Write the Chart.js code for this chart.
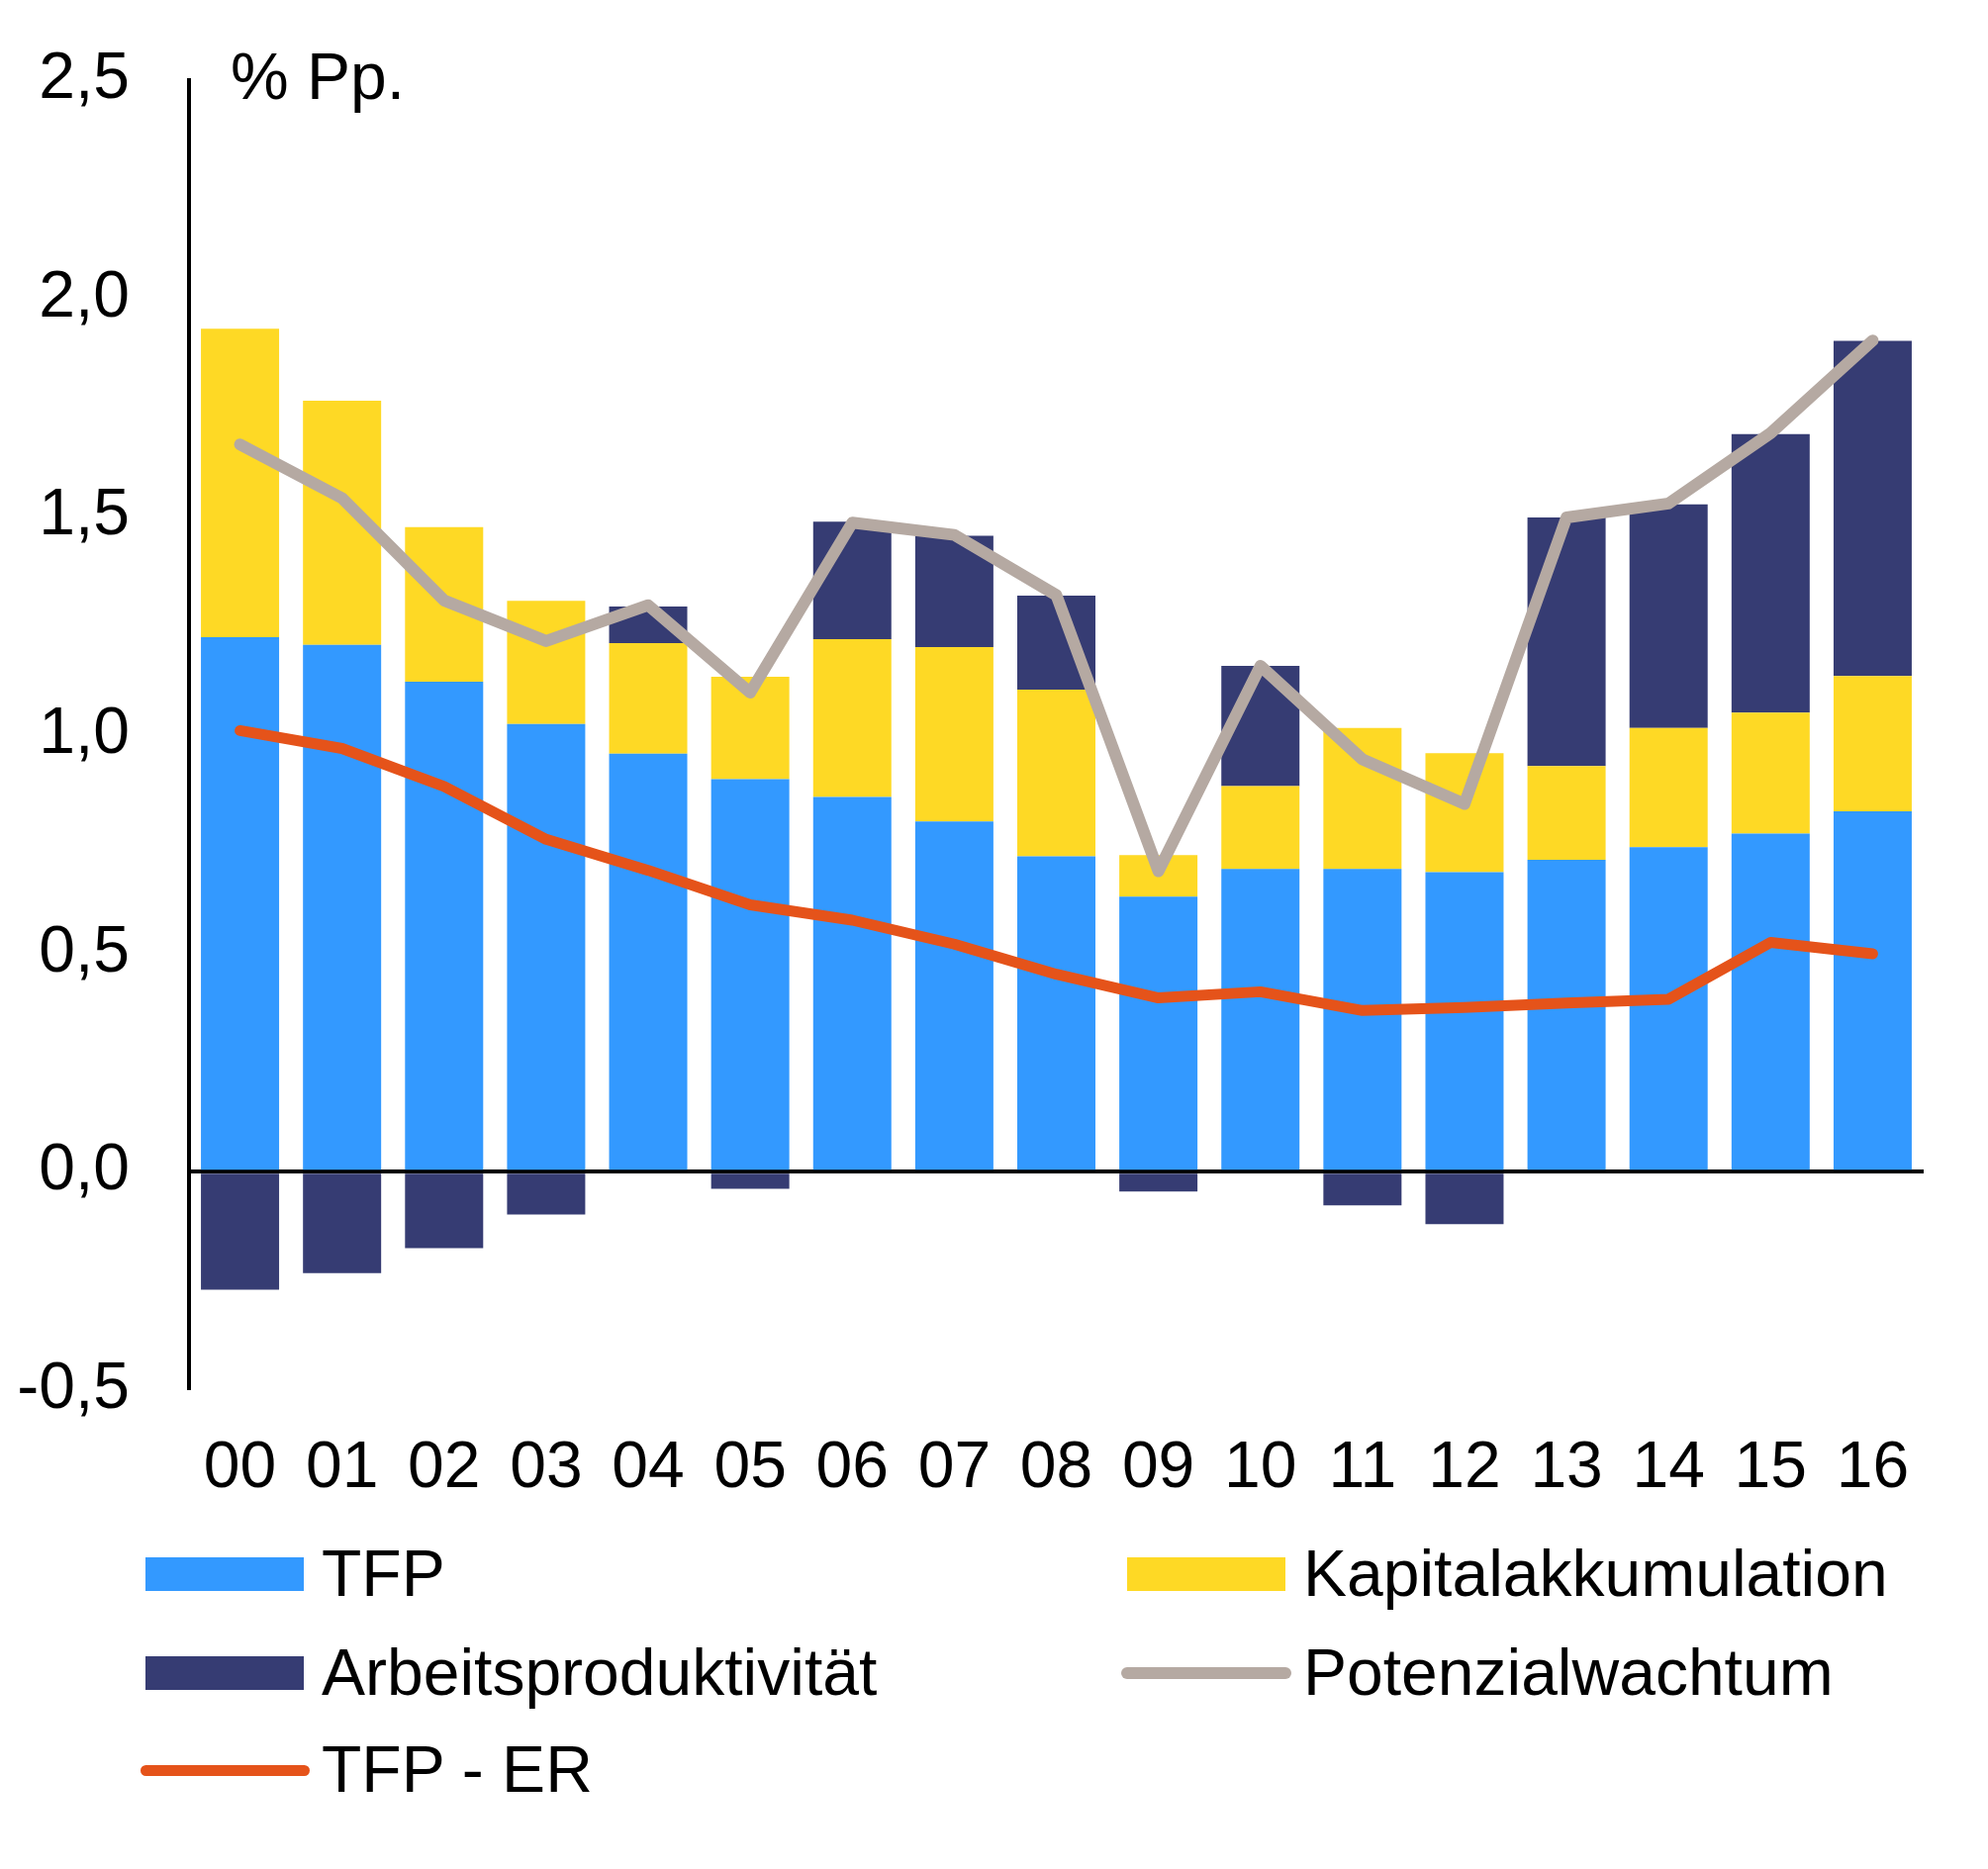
<!DOCTYPE html>
<html>
<head>
<meta charset="utf-8">
<script src="https://cdn.jsdelivr.net/npm/chart.js@4.4.1/dist/chart.umd.min.js"></script>
<style>
  html, body { margin: 0; padding: 0; background: #ffffff; }
  body { width: 2009px; height: 1889px; position: relative; overflow: hidden;
         font-family: "Liberation Sans", Arial, sans-serif; color: #000; }
  #wrap { position: absolute; left: 0; top: -19px; width: 2009px; height: 1908px; }
  .txt { position: absolute; font-size: 66px; line-height: 66px; white-space: nowrap; }
  .sw { position: absolute; }
</style>
</head>
<body>
<div id="wrap"><canvas id="c" width="2009" height="1908"></canvas></div>
<div class="txt" id="unit" style="left:233px; top:44px;">% Pp.</div>
<div id="legend"></div>
<script>
// ---- data ----
const years = ['00','01','02','03','04','05','06','07','08','09','10','11','12','13','14','15','16'];
const tfp = [1.224, 1.206, 1.122, 1.025, 0.957, 0.899, 0.858, 0.802, 0.722, 0.630, 0.693, 0.693, 0.686, 0.714, 0.743, 0.774, 0.825];
const kapital = [0.706, 0.559, 0.354, 0.282, 0.253, 0.234, 0.361, 0.399, 0.382, 0.095, 0.190, 0.323, 0.272, 0.215, 0.273, 0.277, 0.310];
const arbeit = [-0.270, -0.232, -0.175, -0.098, 0.084, -0.039, 0.269, 0.255, 0.215, -0.045, 0.275, -0.077, -0.120, 0.569, 0.512, 0.638, 0.767];
const potenzial = [1.665, 1.542, 1.308, 1.215, 1.297, 1.097, 1.486, 1.458, 1.320, 0.688, 1.158, 0.944, 0.842, 1.498, 1.530, 1.691, 1.903];
const tfpEr = [1.010, 0.969, 0.882, 0.761, 0.690, 0.611, 0.576, 0.521, 0.452, 0.398, 0.412, 0.369, 0.376, 0.386, 0.395, 0.525, 0.499];
const yMin = -0.5, yMax = 2.5, yStep = 0.5;
const seriesNames = ['TFP', 'Kapitalakkumulation', 'Arbeitsproduktivität', 'Potenzialwachtum', 'TFP - ER'];

// ---- styles ----
const C_BLUE = '#3399FF', C_YELLOW = '#FED925', C_NAVY = '#363C73', C_GRAY = '#B5A9A2', C_ORANGE = '#E5531A';
const FONT = { family: '"Liberation Sans", Arial, sans-serif', size: 66 };

const ctx = document.getElementById('c').getContext('2d');
new Chart(ctx, {
  type: 'bar',
  data: {
    labels: years,
    datasets: [
      { type: 'line', label: seriesNames[3], data: potenzial, borderColor: C_GRAY, backgroundColor: C_GRAY,
        borderWidth: 12, pointRadius: 0, tension: 0, borderCapStyle: 'round', borderJoinStyle: 'round',
        stack: 'l1', order: 0 },
      { type: 'line', label: seriesNames[4], data: tfpEr, borderColor: C_ORANGE, backgroundColor: C_ORANGE,
        borderWidth: 11, pointRadius: 0, tension: 0, borderCapStyle: 'round', borderJoinStyle: 'round',
        stack: 'l2', order: 1 },
      { label: seriesNames[0], data: tfp, backgroundColor: C_BLUE, stack: 'bars', order: 2 },
      { label: seriesNames[1], data: kapital, backgroundColor: C_YELLOW, stack: 'bars', order: 2 },
      { label: seriesNames[2], data: arbeit, backgroundColor: C_NAVY, stack: 'bars', order: 2 }
    ]
  },
  options: {
    responsive: false,
    animation: false,
    events: [],
    datasets: { bar: { barPercentage: 0.766, categoryPercentage: 1.0, borderWidth: 0 } },
    layout: { padding: { left: 0, right: 65, top: 59, bottom: 364 } },
    plugins: { legend: { display: false }, tooltip: { enabled: false }, title: { display: false } },
    scales: {
      x: {
        stacked: true,
        grid: { display: false },
        border: { display: false },
        ticks: { color: '#000', font: FONT, padding: 32, maxRotation: 0, autoSkip: false },
        afterFit: (s) => { s.height = 120; }
      },
      y: {
        stacked: true,
        min: yMin, max: yMax,
        z: 1,
        grid: {
          drawTicks: false,
          color: (c) => (c.tick && c.tick.value === 0 ? '#000' : 'rgba(0,0,0,0)'),
          lineWidth: (c) => (c.tick && c.tick.value === 0 ? 4 : 0)
        },
        border: { display: true, color: '#000', width: 4 },
        ticks: {
          stepSize: yStep, color: '#000', font: FONT, padding: 60,
          callback: (v) => v.toFixed(1).replace('.', ',')
        },
        afterFit: (s) => { s.width = 191; }
      }
    }
  }
});

// ---- legend (HTML text) ----
const legendItems = [
  { name: seriesNames[0], kind: 'box', color: C_BLUE,   x: 147,  y: 1591 },
  { name: seriesNames[1], kind: 'box', color: C_YELLOW, x: 1139, y: 1591 },
  { name: seriesNames[2], kind: 'box', color: C_NAVY,   x: 147,  y: 1691 },
  { name: seriesNames[3], kind: 'line', color: C_GRAY,  x: 1139, y: 1691, w: 12 },
  { name: seriesNames[4], kind: 'line', color: C_ORANGE, x: 147, y: 1789, w: 11 }
];
const leg = document.getElementById('legend');
legendItems.forEach(it => {
  const s = document.createElement('div');
  s.className = 'sw';
  if (it.kind === 'box') {
    s.style.left = it.x + 'px'; s.style.top = (it.y - 17) + 'px';
    s.style.width = '160px'; s.style.height = '34px';
  } else {
    s.style.left = (it.x - it.w / 2) + 'px'; s.style.top = (it.y - it.w / 2) + 'px';
    s.style.width = (160 + it.w) + 'px'; s.style.height = it.w + 'px';
    s.style.borderRadius = (it.w / 2) + 'px';
  }
  s.style.background = it.color;
  leg.appendChild(s);
  const t = document.createElement('div');
  t.className = 'txt';
  t.textContent = it.name;
  t.style.left = (it.x + 178) + 'px';
  t.style.top = (it.y + 22 - 56) + 'px';
  leg.appendChild(t);
});
</script>
</body>
</html>
